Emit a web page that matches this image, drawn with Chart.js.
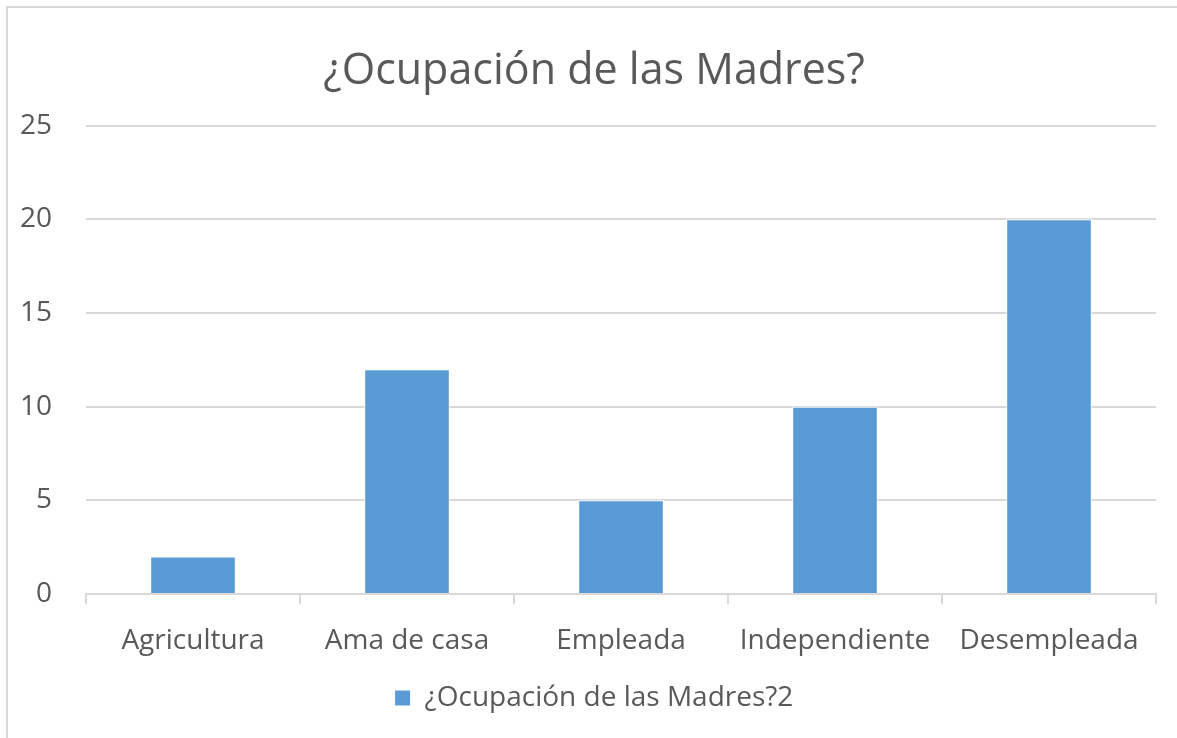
<!DOCTYPE html>
<html>
<head>
<meta charset="utf-8">
<script src="https://cdn.jsdelivr.net/npm/chart.js@4.4.1/dist/chart.umd.min.js"></script>
<style>
    html, body { margin: 0; padding: 0; background: #ffffff; }
    #wrap { position: relative; width: 1177px; height: 738px; overflow: hidden; }
    #frame { position: absolute; left: 6px; top: 6px; width: 1200px; height: 800px; border: 2px solid #d9d9d9; box-sizing: border-box; }
    #c { position: absolute; left: 0; top: 0; }
</style>
</head>
<body>
<div id="wrap">
    <div id="frame"></div>
    <canvas id="c" width="1177" height="738"></canvas>
</div>
<script>
'use strict'
var categories = ['Agricultura', 'Ama de casa', 'Empleada', 'Independiente', 'Desempleada'];
var values = [2, 12, 5, 10, 20];
var seriesName = '¿Ocupación de las Madres?2';
var chartTitle = '¿Ocupación de las Madres?';

var textColor = '#595959';
var lineColor = '#d9d9d9';
var font = "'Open Sans', sans-serif";

/* title and legend are centred over the framed box, not over the plot */
var shiftHeader = {
    id: 'shiftHeader',
    afterLayout: function (chart) {
        if (chart.titleBlock) chart.titleBlock.left += 32;
        if (chart.legend) chart.legend.left += 32;
    }
};

var ctx = document.getElementById('c').getContext('2d');
var chart = new Chart(ctx, {
    type: 'bar',
    data: {
        labels: categories,
        datasets: [{
            label: seriesName,
            data: values,
            backgroundColor: '#5b9bd5',
            borderColor: '#ffffff',
            borderWidth: 1,
            borderSkipped: 'bottom',
            categoryPercentage: 0.4,
            barPercentage: 1.0
        }]
    },
    options: {
        responsive: false,
        animation: false,
        layout: {
            padding: { left: 0, right: 21, top: 46, bottom: 16 }
        },
        plugins: {
            title: {
                display: true,
                text: chartTitle,
                color: textColor,
                font: { family: font, size: 43, weight: 'normal' },
                padding: { top: 0, bottom: 28 }
            },
            legend: {
                display: true,
                position: 'bottom',
                labels: {
                    color: textColor,
                    font: { family: font, size: 28 },
                    boxWidth: 16,
                    boxHeight: 16,
                    padding: 10
                }
            },
            tooltip: { enabled: false }
        },
        scales: {
            y: {
                min: 0,
                max: 25,
                ticks: {
                    stepSize: 5,
                    color: textColor,
                    font: { family: font, size: 28 },
                    padding: 34
                },
                grid: { color: lineColor, lineWidth: 2, drawTicks: false },
                border: { display: false },
                afterFit: function (scale) { scale.width = 86; }
            },
            x: {
                offset: true,
                ticks: {
                    color: textColor,
                    font: { family: font, size: 28 },
                    padding: 20
                },
                grid: {
                    offset: true,
                    drawOnChartArea: false,
                    color: lineColor,
                    lineWidth: 2,
                    tickLength: 10
                },
                border: { display: true, color: lineColor, width: 2 },
                afterFit: function (scale) { scale.height = 80; }
            }
        }
    },
    plugins: [shiftHeader]
});
</script>
</body>
</html>
